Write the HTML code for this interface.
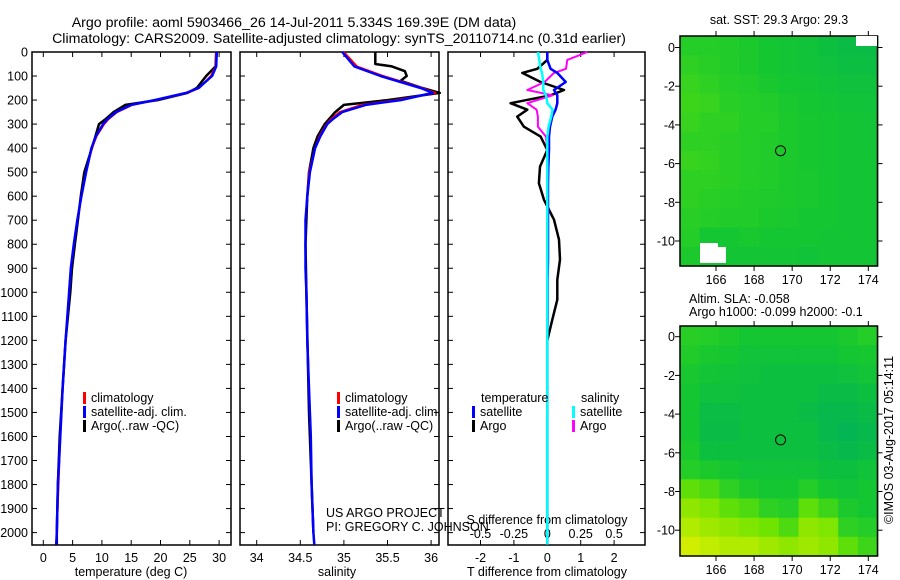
<!DOCTYPE html>
<html><head><meta charset="utf-8"><style>
html,body{margin:0;padding:0;background:#fff;}
svg{display:block;font-family:"Liberation Sans",Arial,sans-serif;}
</style></head><body>
<svg id="fig" width="900" height="580" viewBox="0 0 900 580">
<rect width="900" height="580" fill="#fff"/>
<text x="294" y="27" font-size="14.2" text-anchor="middle">Argo profile: aoml 5903466_26 14-Jul-2011 5.334S 169.39E (DM data)</text>
<text x="339" y="43" font-size="14.2" text-anchor="middle">Climatology: CARS2009. Satellite-adjusted climatology: synTS_20110714.nc (0.31d earlier)</text>
<g id="p1"></g>
<g id="p2"></g>
<g id="p3"></g>
<g id="m1"></g>
<g id="m2"></g>
<text transform="translate(893,440) rotate(-90)" font-size="12.5" text-anchor="middle">©IMOS 03-Aug-2017 05:14:11</text>
</svg>
<script>
// ---- data ----
const depthTicks = [0,100,200,300,400,500,600,700,800,900,1000,1100,1200,1300,1400,1500,1600,1700,1800,1900,2000];
const tempTicks = [0,5,10,15,20,25,30];
const salTicks = [34,34.5,35,35.5,36];
const tdiffTicks = [-2,-1,0,1,2];
const sdiffTicks = [-0.5,-0.25,0,0.25,0.5];
const sdiffLabels = ["-0.5","-0.25","0","0.25","0.5"];

const climDepth = [0,60,100,150,170,200,220,250,280,300,350,400,500,600,700,800,900,1000,1200,1400,1600,1800,2000,2050];
const tempClim  = [29.5,29.4,28.6,26.6,24.6,19.2,15.2,12.6,11.1,10.4,9.1,8.3,7.3,6.5,5.8,5.2,4.7,4.4,3.8,3.3,2.9,2.6,2.3,2.2];
const tempSat   = [29.6,29.5,28.8,26.5,24.4,19.0,15.0,12.4,10.9,10.2,9.0,8.2,7.3,6.5,5.8,5.2,4.7,4.4,3.8,3.3,2.9,2.5,2.3,2.2];
const tempArgo  = [29.5,29.4,27.8,26.2,24.6,19.5,14.0,12.0,10.6,9.5,8.9,8.3,7.0,6.4,5.9,5.4,4.9,4.6,3.8,3.3,2.8,2.5,2.3,2.3];
const salClim   = [35.0,35.15,35.45,35.9,36.05,35.6,35.2,34.95,34.85,34.8,34.72,34.67,34.6,34.58,34.56,34.56,34.56,34.57,34.58,34.6,34.62,34.63,34.65,34.66];
const salSat    = [34.98,35.12,35.42,35.88,36.02,35.65,35.25,34.98,34.87,34.81,34.73,34.67,34.61,34.58,34.56,34.56,34.56,34.57,34.58,34.6,34.62,34.63,34.65,34.66];
const argoDepth = [0,50,60,80,100,120,150,170,200,220,250,300,350,400,500,600,800,1000,1500,2000];
const salArgo   = [35.36,35.36,35.55,35.7,35.72,35.65,35.9,36.1,35.5,35.0,34.9,34.78,34.7,34.65,34.6,34.58,34.56,34.57,34.6,34.65];

const diffDepth = [0,33,70,87,125,158,180,213,240,269,311,352,408,477,546,615,698,781,864,948,1031,1114,1200,1500,2050];
const tdiffArgo = [0,0,-0.3,-0.75,-0.2,0.5,0.1,-1.1,-0.6,-0.9,-0.7,-0.2,0,-0.22,-0.25,-0.1,0.2,0.35,0.38,0.3,0.3,0.15,0,0,0];
const tdiffSat  = [0,0,0.1,0.3,0.55,0.2,0.3,0.3,0.25,0.15,0.08,0.05,0.05,0.03,0.02,0.02,0.02,0.02,0.02,0.01,0.01,0.01,0,0,0];
const sdiffArgo = [0.3,0.15,0.14,0.05,-0.02,-0.15,0.04,-0.15,-0.08,-0.07,-0.07,-0.01,0,0,0,0,0,0,0,0,0,0,0,0,0];
const sdiffSat  = [-0.07,-0.06,-0.05,-0.04,-0.03,-0.03,-0.01,0.0,0.04,0.03,0.01,0,0,0,0,0,0,0,0,0,0,0,0,0,0];

const mapLonTicks = [166,168,170,172,174];
const mapLatTicks = [0,-2,-4,-6,-8,-10];
const argoLon = 169.39, argoLat = -5.334;
const sstGrid = [
 [0.40,0.40,0.38,0.35,0.30,0.28,0.25,0.20,0.15,0.15],
 [0.45,0.42,0.38,0.35,0.30,0.28,0.25,0.22,0.18,0.18],
 [0.48,0.45,0.40,0.38,0.33,0.30,0.28,0.25,0.22,0.22],
 [0.50,0.48,0.42,0.40,0.38,0.33,0.30,0.28,0.25,0.25],
 [0.48,0.45,0.45,0.40,0.40,0.35,0.32,0.30,0.28,0.27],
 [0.45,0.45,0.42,0.40,0.38,0.35,0.32,0.30,0.28,0.27],
 [0.48,0.47,0.42,0.40,0.38,0.35,0.32,0.30,0.28,0.28],
 [0.45,0.45,0.42,0.40,0.38,0.35,0.33,0.30,0.28,0.28],
 [0.45,0.42,0.40,0.38,0.36,0.35,0.33,0.30,0.28,0.28],
 [0.42,0.40,0.38,0.38,0.35,0.33,0.30,0.30,0.28,0.28],
 [0.40,0.30,0.30,0.33,0.30,0.30,0.30,0.28,0.28,0.28],
 [0.35,0.30,0.28,0.28,0.28,0.28,0.25,0.28,0.28,0.28]];
const slaGrid = [
 [0.42,0.40,0.35,0.30,0.30,0.30,0.30,0.30,0.35,0.40],
 [0.38,0.33,0.30,0.25,0.25,0.25,0.25,0.25,0.30,0.32],
 [0.33,0.27,0.25,0.22,0.20,0.20,0.20,0.20,0.22,0.27],
 [0.30,0.22,0.22,0.20,0.20,0.20,0.20,0.15,0.15,0.20],
 [0.30,0.16,0.16,0.20,0.20,0.20,0.15,0.10,0.10,0.15],
 [0.30,0.15,0.15,0.20,0.20,0.20,0.20,0.10,0.05,0.10],
 [0.35,0.20,0.20,0.20,0.20,0.20,0.20,0.15,0.10,0.15],
 [0.40,0.35,0.30,0.25,0.25,0.25,0.25,0.20,0.20,0.25],
 [0.60,0.55,0.45,0.35,0.30,0.30,0.40,0.30,0.25,0.30],
 [0.75,0.70,0.60,0.55,0.45,0.40,0.60,0.50,0.35,0.30],
 [0.85,0.80,0.75,0.70,0.65,0.55,0.75,0.70,0.45,0.40],
 [0.95,0.90,0.85,0.85,0.80,0.75,0.80,0.75,0.60,0.50]];

// ---- helpers ----
const NS = "http://www.w3.org/2000/svg";
function mk(parent, tag, attrs, txt){
  const e = document.createElementNS(NS, tag);
  for (const k in attrs) e.setAttribute(k, attrs[k]);
  if (txt !== undefined) e.textContent = txt;
  parent.appendChild(e);
  return e;
}
const yTop = 52, yBot = 545;
const yD = d => yTop + d * 0.2403;

function frame(g, x0, x1, xs, ticks, labels, withY){
  const r = mk(g,'rect',{x:x0,y:yTop,width:x1-x0,height:yBot-yTop,fill:'none',stroke:'#000','stroke-width':1.5});
  
  
  ticks.forEach((t,i)=>{
    const x = xs(t);
    mk(g,'line',{x1:x,x2:x,y1:yBot,y2:yBot-5,stroke:'#000'});
    mk(g,'line',{x1:x,x2:x,y1:yTop,y2:yTop+5,stroke:'#000'});
    const tl = mk(g,'text',{x:x,y:yBot+17,'font-size':12.5,'text-anchor':'middle'},labels[i]);
    
    
  });
  depthTicks.forEach(d=>{
    const y = yD(d);
    mk(g,'line',{x1:x0,x2:x0+5,y1:y,y2:y,stroke:'#000'});
    mk(g,'line',{x1:x1,x2:x1-5,y1:y,y2:y,stroke:'#000'});
    if (withY){
      const tl = mk(g,'text',{x:x0-4,y:y+4.5,'font-size':12.5,'text-anchor':'end'},String(d));
      
      
    }
  });
}
function line(g, xs, vals, depths, color, w, name){
  const pts = vals.map((v,i)=>xs(v).toFixed(1)+','+yD(depths[i]).toFixed(1)).join(' ');
  const p = mk(g,'polyline',{points:pts,fill:'none',stroke:color,'stroke-width':w,'stroke-linejoin':'round'});
  
  
}
function legend(g, x, y, items){
  items.forEach((it,i)=>{
    const yy = y + i*14;
    mk(g,'rect',{x:x,y:yy-10,width:3,height:12,fill:it[1]});
    const t = mk(g,'text',{x:x+8,y:yy,'font-size':12.5},it[0]);
    
    
  });
}

// ---- panel 1: temperature ----
const p1 = document.getElementById('p1');
const xT = v => 43.3 + v * 5.86;
frame(p1, 32, 231, xT, tempTicks, tempTicks.map(String), true);
line(p1, xT, tempArgo, climDepth, '#000', 2.5, 'temp-argo-line');
line(p1, xT, tempClim, climDepth, '#f00', 2, 'temp-climatology-line');
line(p1, xT, tempSat, climDepth, '#00f', 2.5, 'temp-satellite-line');
legend(p1, 83, 402, [['climatology','#f00'],['satellite-adj. clim.','#00f'],['Argo(..raw -QC)','#000']]);
mk(p1,'text',{x:131,y:576,'font-size':12.5,'text-anchor':'middle'},'temperature (deg C)');

// ---- panel 2: salinity ----
const p2 = document.getElementById('p2');
const xS = v => 256.7 + (v-34) * 87.2;
frame(p2, 240, 439, xS, salTicks, salTicks.map(String), false);
line(p2, xS, salArgo, argoDepth, '#000', 2.5, 'salinity-argo-line');
line(p2, xS, salClim, climDepth, '#f00', 2, 'salinity-climatology-line');
line(p2, xS, salSat, climDepth, '#00f', 2.5, 'salinity-satellite-line');
legend(p2, 337, 402, [['climatology','#f00'],['satellite-adj. clim.','#00f'],['Argo(..raw -QC)','#000']]);
mk(p2,'text',{x:337,y:576,'font-size':12.5,'text-anchor':'middle'},'salinity');
mk(p2,'text',{x:326,y:517,'font-size':12.5},'US ARGO PROJECT');
mk(p2,'text',{x:326,y:531,'font-size':12.5},'PI: GREGORY C. JOHNSON');

// ---- panel 3: differences ----
const p3 = document.getElementById('p3');
const xTd = v => 547.3 + v * 33.4;
const xSd = v => 547.3 + v * 133.6;
frame(p3, 448, 645, xTd, tdiffTicks, tdiffTicks.map(String), false);
sdiffTicks.forEach((t,i)=>{
  const tl = mk(p3,'text',{x:xSd(t),y:538,'font-size':12.5,'text-anchor':'middle'},sdiffLabels[i]);
  
  
});
mk(p3,'text',{x:547,y:524,'font-size':12.5,'text-anchor':'middle'},'S difference from climatology');
mk(p3,'text',{x:547,y:576,'font-size':12.5,'text-anchor':'middle'},'T difference from climatology');
line(p3, xTd, tdiffArgo, diffDepth, '#000', 2.5, 't-diff-argo-line');
line(p3, xSd, sdiffArgo, diffDepth, '#f0f', 2, 's-diff-argo-line');
line(p3, xTd, tdiffSat, diffDepth, '#00f', 2.5, 't-diff-satellite-line');
line(p3, xSd, sdiffSat, diffDepth, '#0ff', 2.5, 's-diff-satellite-line');
mk(p3,'text',{x:481,y:402,'font-size':12.5},'temperature');
mk(p3,'text',{x:581,y:402,'font-size':12.5},'salinity');
legend(p3, 472, 416, [['satellite','#00f'],['Argo','#000']]);
legend(p3, 572, 416, [['satellite','#0ff'],['Argo','#f0f']]);

// ---- maps ----
function col(v){
  const stops=[[0,[0,178,90]],[0.3,[20,198,50]],[0.45,[45,208,35]],[0.65,[110,228,0]],[1,[225,240,0]]];
  for(let i=1;i<stops.length;i++){
    if(v<=stops[i][0]){
      const a=stops[i-1],b=stops[i],f=(v-a[0])/(b[0]-a[0]);
      return 'rgb('+a[1].map((c,k)=>Math.round(c+(b[1][k]-c)*f)).join(',')+')';
    }
  }
  return 'rgb(225,240,0)';
}
function map(id, top, bot, lat0y, grid){
  const g = document.getElementById(id);
  const x0=680, x1=877.5;
  const lonX = lon => 716 + (lon-166)*19.04;
  const latY = lat => lat0y - lat*19.35;
  const lonL=164.1, lonR=174.5, latT=(lat0y-top)/19.35, latB=(lat0y-bot)/19.35;
  const nr=grid.length, nc=grid[0].length;
  const dLat=(latT-latB)/nr, dLon=(lonR-lonL)/nc;
  grid.forEach((row,r)=>row.forEach((v,c)=>{
    const x=lonX(lonL+c*dLon), y=latY(latT-r*dLat);
    const cell = mk(g,'rect',{x:x.toFixed(1),y:y.toFixed(1),width:(dLon*19.04+0.6).toFixed(1),height:(dLat*19.35+0.6).toFixed(1),fill:col(v)});
    
    
  }));
  const fr = mk(g,'rect',{x:x0,y:top,width:x1-x0,height:bot-top,fill:'none',stroke:'#000','stroke-width':1.5});
  
  
  mapLonTicks.forEach(l=>{
    const x=lonX(l);
    mk(g,'line',{x1:x,x2:x,y1:bot,y2:bot+5,stroke:'#000'});
    mk(g,'line',{x1:x,x2:x,y1:top,y2:top-5,stroke:'#000'});
    const t=mk(g,'text',{x:x,y:bot+18,'font-size':12.5,'text-anchor':'middle'},String(l));
    
    
  });
  mapLatTicks.forEach(l=>{
    const y=latY(l);
    mk(g,'line',{x1:x0,x2:x0-5,y1:y,y2:y,stroke:'#000'});
    mk(g,'line',{x1:x1,x2:x1+5,y1:y,y2:y,stroke:'#000'});
    const t=mk(g,'text',{x:675,y:y+4.5,'font-size':12.5,'text-anchor':'end'},String(l));
    
    
  });
  const c = mk(g,'circle',{cx:lonX(argoLon),cy:latY(argoLat),r:5,fill:'none',stroke:'#000','stroke-width':1});
  
  
  return g;
}
const m1 = map('m1', 36, 266, 47.5, sstGrid);
mk(m1,'text',{x:779,y:24,'font-size':12.5,'text-anchor':'middle'},'sat. SST: 29.3 Argo: 29.3');
mk(m1,'rect',{x:856,y:36,width:21,height:10,fill:'#fff'});
mk(m1,'rect',{x:700,y:243,width:18,height:20,fill:'#fff'});
mk(m1,'rect',{x:718,y:247,width:8,height:16,fill:'#fff'});
const m2 = map('m2', 326, 556, 336.7, slaGrid);
mk(m2,'text',{x:689,y:303,'font-size':12.5},'Altim. SLA: -0.058');
mk(m2,'text',{x:689,y:316,'font-size':12.5},'Argo h1000: -0.099 h2000: -0.1');
</script>
</body></html>
